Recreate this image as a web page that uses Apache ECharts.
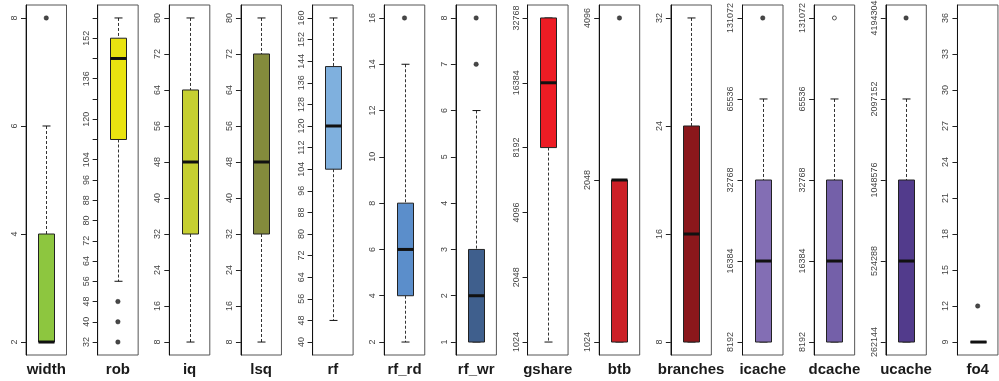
<!DOCTYPE html>
<html>
<head>
<meta charset="utf-8">
<script src="https://cdn.jsdelivr.net/npm/echarts@6/dist/echarts.min.js"></script>
<style>
  html, body { margin: 0; padding: 0; background: #fff; }
  #chart { width: 999px; height: 381px; }
</style>
</head>
<body>
<div id="chart"></div>
<script>
// Design-space parameters, one boxplot per parameter
const names = ['width', 'rob', 'iq', 'lsq', 'rf', 'rf_rd', 'rf_wr', 'gshare', 'btb', 'branches', 'icache', 'dcache', 'ucache', 'fo4'];
const lowWhisker  = [2, 56, 8, 8, 48, 2, 1, 1024, 1024, 8, 8192, 8192, 262144, 9];
const q1          = [2, 112, 32, 32, 104, 4, 1, 8192, 1024, 8, 8192, 8192, 262144, 9];
const median      = [2, 144, 48, 48, 120, 6, 2, 16384, 2048, 16, 16384, 16384, 524288, 9];
const q3          = [4, 152, 64, 72, 142, 8, 3, 32768, 2048, 24, 32768, 32768, 1048576, 9];
const highWhisker = [6, 160, 80, 80, 160, 14, 6, 32768, 2048, 32, 65536, 65536, 2097152, 9];
const outliers    = [[8], [48, 40, 32], [], [], [], [16], [7, 8], [], [4096], [], [131072], [131072], [4194304], [12]];

// Axis ranges (parameter bounds) and whether the axis is log2-scaled
const rangeLow  = [2, 32, 8, 8, 40, 2, 1, 1024, 1024, 8, 8192, 8192, 262144, 9];
const rangeHigh = [8, 160, 80, 80, 160, 16, 8, 32768, 4096, 32, 131072, 131072, 4194304, 36];
const logScale  = [false, false, false, false, false, false, false, true, true, false, true, true, true, false];

// Tick positions and the tick labels that are printed
const tickValues = [
  [2, 4, 6, 8],
  [32, 40, 48, 56, 64, 72, 80, 88, 96, 104, 112, 120, 128, 136, 144, 152, 160],
  [8, 16, 24, 32, 40, 48, 56, 64, 72, 80],
  [8, 16, 24, 32, 40, 48, 56, 64, 72, 80],
  [40, 48, 56, 64, 72, 80, 88, 96, 104, 112, 120, 128, 136, 144, 152, 160],
  [2, 4, 6, 8, 10, 12, 14, 16],
  [1, 2, 3, 4, 5, 6, 7, 8],
  [1024, 2048, 4096, 8192, 16384, 32768],
  [1024, 2048, 4096],
  [8, 16, 24, 32],
  [8192, 16384, 32768, 65536, 131072],
  [8192, 16384, 32768, 65536, 131072],
  [262144, 524288, 1048576, 2097152, 4194304],
  [9, 12, 15, 18, 21, 24, 27, 30, 33, 36]
];
const labelValues = [
  [2, 4, 6, 8],
  [32, 40, 48, 56, 64, 72, 80, 88, 96, 104, 120, 136, 152],
  [8, 16, 24, 32, 40, 48, 56, 64, 72, 80],
  [8, 16, 24, 32, 40, 48, 56, 64, 72, 80],
  [40, 48, 56, 64, 72, 80, 88, 96, 104, 112, 120, 128, 136, 144, 152, 160],
  [2, 4, 6, 8, 10, 12, 14, 16],
  [1, 2, 3, 4, 5, 6, 7, 8],
  [1024, 2048, 4096, 8192, 16384, 32768],
  [1024, 2048, 4096],
  [8, 16, 24, 32],
  [8192, 16384, 32768, 65536, 131072],
  [8192, 16384, 32768, 65536, 131072],
  [262144, 524288, 1048576, 2097152, 4194304],
  [9, 12, 15, 18, 21, 24, 27, 30, 33, 36]
];

const boxColors = ['#8dc63f', '#e9e310', '#c6cf31', '#848b3c', '#7fb0de', '#5b8ecb', '#3f5f8d',
                   '#ed1c24', '#cb2027', '#8b171b', '#836eb4', '#7460a9', '#523b8c', '#ffffff'];

const chart = echarts.init(document.getElementById('chart'), null, { renderer: 'canvas' });

const PANEL_LEFT = 26, PANEL_STEP = 71.65, PANEL_W = 40.5, PANEL_TOP = 5, PANEL_H = 350;
const PAD = 0.04;

function boxRenderer(params, api) {
  const lo = api.coord([0, api.value(1)]);
  const b1 = api.coord([0, api.value(2)]);
  const md = api.coord([0, api.value(3)]);
  const b3 = api.coord([0, api.value(4)]);
  const hi = api.coord([0, api.value(5)]);
  const cx = Math.round(lo[0]) + 0.5;
  const half = 8, cap = 4;
  const dash = { stroke: '#333', lineWidth: 1, lineDash: [3, 2] };
  const solid = { stroke: '#111', lineWidth: 1 };
  const children = [];
  if (hi[1] < b3[1]) children.push({ type: 'line', shape: { x1: cx, y1: hi[1], x2: cx, y2: b3[1] }, style: dash });
  if (lo[1] > b1[1]) children.push({ type: 'line', shape: { x1: cx, y1: b1[1], x2: cx, y2: lo[1] }, style: dash });
  children.push({ type: 'line', shape: { x1: cx - cap, y1: hi[1], x2: cx + cap, y2: hi[1] }, style: solid });
  children.push({ type: 'line', shape: { x1: cx - cap, y1: lo[1], x2: cx + cap, y2: lo[1] }, style: solid });
  children.push({
    type: 'rect',
    shape: { x: cx - half, y: b3[1], width: half * 2, height: b1[1] - b3[1] },
    style: { fill: api.visual('color'), stroke: '#222', lineWidth: 1 }
  });
  children.push({ type: 'line', shape: { x1: cx - half, y1: md[1], x2: cx + half, y2: md[1] }, style: { stroke: '#111', lineWidth: 3 } });
  return { type: 'group', children: children };
}

const grids = [], xAxes = [], yAxes = [], series = [];
names.forEach(function (name, i) {
  grids.push({
    left: PANEL_LEFT + PANEL_STEP * i, top: PANEL_TOP, width: PANEL_W, height: PANEL_H,
    containLabel: false, outerBoundsMode: 'none',
    show: true, borderColor: '#555', borderWidth: 1, backgroundColor: '#fff'
  });
  xAxes.push({
    gridIndex: i, type: 'category', data: [name], boundaryGap: true,
    axisLine: { show: false }, axisTick: { show: false }, splitLine: { show: false },
    axisLabel: { margin: 7, fontSize: 15, fontWeight: 'bold', color: '#1a1a1a', fontFamily: 'Liberation Sans, Arial, sans-serif' }
  });
  let yMin, yMax;
  if (logScale[i]) {
    const a = Math.log2(rangeLow[i]), b = Math.log2(rangeHigh[i]);
    yMin = Math.pow(2, a - PAD * (b - a));
    yMax = Math.pow(2, b + PAD * (b - a));
  } else {
    const span = rangeHigh[i] - rangeLow[i];
    yMin = rangeLow[i] - PAD * span;
    yMax = rangeHigh[i] + PAD * span;
  }
  yAxes.push({
    gridIndex: i,
    type: logScale[i] ? 'log' : 'value',
    logBase: 2,
    min: yMin, max: yMax,
    splitLine: { show: false },
    axisLine: { show: true, lineStyle: { color: '#111', width: 1 } },
    axisTick: { show: true, length: 5, lineStyle: { color: '#222' }, customValues: tickValues[i] },
    axisLabel: {
      rotate: 90, fontSize: 9, color: '#444', margin: 7,
      fontFamily: 'Liberation Sans, Arial, sans-serif',
      customValues: labelValues[i],
      formatter: function (v) { return String(Math.round(v)); }
    }
  });
  series.push({
    type: 'custom', xAxisIndex: i, yAxisIndex: i,
    itemStyle: { color: boxColors[i] },
    renderItem: boxRenderer,
    encode: { x: 0, y: [1, 2, 3, 4, 5] },
    data: [[0, lowWhisker[i], q1[i], median[i], q3[i], highWhisker[i]]],
    silent: true, z: 2
  });
  series.push({
    type: 'scatter', xAxisIndex: i, yAxisIndex: i,
    symbol: 'circle', symbolSize: i === 11 ? 4 : 4.5,
    itemStyle: i === 11
      ? { color: '#fff', borderColor: '#333', borderWidth: 1 }
      : { color: '#1a1a1a', borderColor: '#1a1a1a', borderWidth: 0.5 },
    data: outliers[i].map(function (v) { return [0, v]; }),
    silent: true, z: 3
  });
});

chart.setOption({
  animation: false,
  backgroundColor: '#fff',
  grid: grids,
  xAxis: xAxes,
  yAxis: yAxes,
  series: series
});
</script>
</body>
</html>
